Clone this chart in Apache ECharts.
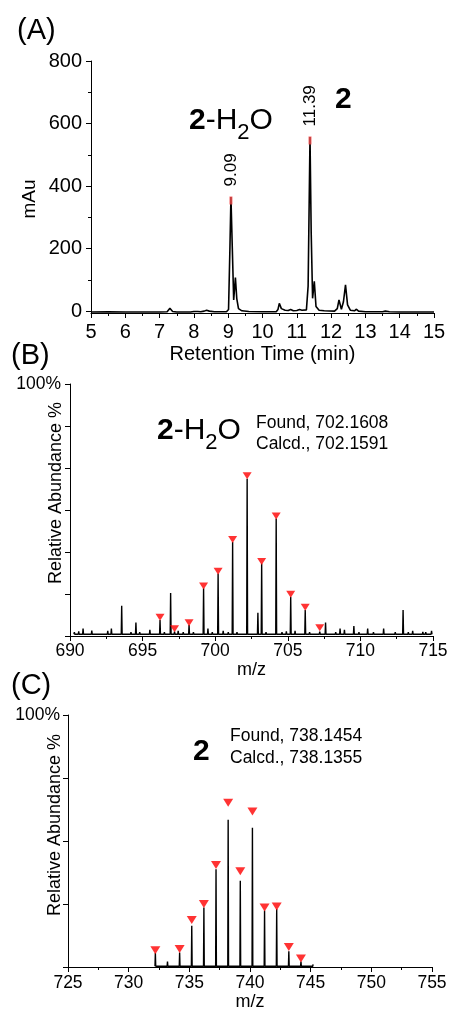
<!DOCTYPE html>
<html><head><meta charset="utf-8">
<script src="https://cdn.jsdelivr.net/npm/echarts@6/dist/echarts.min.js"></script>
<style>html,body{margin:0;padding:0;background:#fff}#c{width:453px;height:1012px}</style>
</head><body><div id="c"></div><script>
const FONT = "'Liberation Sans', Arial, sans-serif";

// ---------- Panel A : HPLC chromatogram ----------
const chromTime = [5.0,5.5,6.0,6.5,7.0,7.22,7.30,7.38,7.5,7.9,8.0,8.05,8.11,8.2,8.3,8.37,8.45,8.6,8.95,9.01,9.05,9.08,9.12,9.16,9.21,9.25,9.3,9.4,9.6,10.0,10.4,10.45,10.49,10.55,10.6,10.66,10.75,10.82,10.9,11.0,11.08,11.15,11.28,11.33,11.385,11.42,11.46,11.51,11.56,11.65,11.8,12.1,12.18,12.23,12.3,12.36,12.42,12.48,12.56,12.68,12.74,12.8,13.0,13.5,13.58,13.63,13.7,14.0,15.0];
const chromAbs  = [-3,-2.5,-3,-3,-3,-2,9,-1,-3,-3,-1,5,-1,-2,0,3,0,-2,-2,5,200,365,200,36,107,40,8,1,-1,-2,-2,5,25,8,12,3,2,5,1,2,5,3,4,80,557,250,41,95,15,3,1,0,8,36,6,30,84,20,3,1,6,0,-2,-2,0,4,-2,-3,-3];
const peakTime  = [9.08, 11.385];
const peakAbs   = [365, 557];
const peakLabel = ['9.09', '11.39'];
const aYMajor = [0, 200, 400, 600, 800];
const aYMinor = [100, 300, 500, 700];

// ---------- Panel B : MS of 2-H2O ----------
const bStickMz  = [690.3,690.6,690.9,691.2,691.5,691.8,692.2,692.6,692.85,693.2,693.56,693.9,694.2,694.54,694.8,695.2,695.5,695.8,696.2,696.5,696.93,697.2,697.45,697.8,698.2,698.5,698.8,699.2,699.5,699.8,700.2,700.55,700.9,701.2,701.5,701.8,702.2,702.5,702.94,703.2,703.5,703.8,704.2,704.6,704.9,705.2,705.5,705.8,706.2,706.5,706.8,707.2,707.6,708.0,708.3,708.6,708.9,709.2,709.55,709.9,710.2,710.5,710.9,711.2,711.6,712.0,712.4,712.94,713.3,713.6,714.0,714.3,714.5,714.9];
const bStickInt = [1.5,1.8,3,1.2,2.2,1,1.2,2,3,1.4,12,1.2,1.5,5.3,1.5,1.2,2.5,1,6.3,1.5,17.1,1.7,2,1.5,4.4,1.5,1.2,18.9,3,1.5,24.8,2,1.5,37.3,1.5,1.2,62.4,1.2,9.2,28.8,1.5,1.2,46.6,1.5,1.8,15.6,2,1.2,10.3,1.5,1.2,1.7,5.3,1.2,1.5,3,2.5,1.2,4,1.5,1.2,3,1.5,1.2,3,1.2,1.5,10.3,1.5,2,1.2,1.6,1.5,2];
const bCalcMz  = [696.2,697.2,698.2,699.2,700.2,701.2,702.2,703.2,704.2,705.2,706.2,707.2];
const bCalcInt = [7.4,2.9,5.3,19.8,25.7,38.3,63.6,29.6,47.6,16.6,11.4,3.3];
const bYTicks = [0, 16.667, 33.333, 50, 66.667, 83.333, 100];

// ---------- Panel C : MS of 2 ----------
const cStickMz  = [732.2,733.2,734.2,735.2,736.2,737.2,738.2,739.2,740.2,741.2,742.2,743.2,744.2,745.2];
const cStickInt = [5.5,2.2,5.7,16.4,23.6,38.8,58.4,34.2,55.3,22.4,23,6.2,2.2,1.0];
const cCalcMz  = [732.2,734.2,735.2,736.2,737.2,738.2,739.2,740.2,741.2,742.2,743.2,744.2];
const cCalcInt = [6.6,7.1,18.7,25,40.5,65.2,38,61.7,23.6,24,7.9,3.4];

function sticks(mz, inten, base) {
  const out = [];
  mz.forEach((m, i) => { out.push([m - 0.03, base], [m, inten[i]], [m + 0.03, base]); });
  return out;
}
const pairs = (a, b) => a.map((v, i) => [v, b[i]]);

const blk = '#000';
function xAx(gi, min, max, name, fs, margin, gap) {
  return {
    type: 'value', gridIndex: gi, min: min, max: max, interval: gi === 0 ? 1 : 5,
    axisLine: { show: true, onZero: false, lineStyle: { color: blk, width: 1 } },
    axisTick: { show: true, inside: false, length: 5, lineStyle: { color: blk } },
    minorTick: { show: true, splitNumber: 2, length: 3, lineStyle: { color: blk } },
    axisLabel: { color: blk, fontSize: fs, fontFamily: FONT, margin: margin },
    splitLine: { show: false }, minorSplitLine: { show: false },
    name: name, nameLocation: 'middle', nameGap: gap,
    nameTextStyle: { color: blk, fontSize: gi === 0 ? 20 : 18, fontFamily: FONT }
  };
}

const option = {
  animation: false,
  backgroundColor: '#fff',
  grid: [
    { left: 91, top: 61, width: 343, height: 252 },
    { left: 70, top: 384, width: 363, height: 252 },
    { left: 68, top: 715, width: 364, height: 252 }
  ],
  xAxis: [
    xAx(0, 5, 15, 'Retention Time (min)', 20, 9, 31),
    xAx(1, 690, 715, 'm/z', 17.5, 6, 24),
    xAx(2, 725, 755, 'm/z', 17.5, 7, 25)
  ],
  yAxis: [
    { type: 'value', gridIndex: 0, position: 'left', min: -6, max: 800,
      axisLine: { show: true, lineStyle: { color: blk } },
      axisTick: { show: true, length: 5, customValues: aYMajor, lineStyle: { color: blk } },
      axisLabel: { customValues: aYMajor, color: blk, fontSize: 20, fontFamily: FONT, margin: 9 },
      splitLine: { show: false },
      name: 'mAu', nameLocation: 'middle', nameGap: 52, nameMoveOverlap: false,
      nameTextStyle: { color: blk, fontSize: 19, fontFamily: FONT, padding: [0, 24, 0, 0] } },
    { type: 'value', gridIndex: 0, position: 'left', min: -6, max: 800,
      axisLine: { show: false },
      axisTick: { show: true, length: 3, customValues: aYMinor, lineStyle: { color: blk } },
      axisLabel: { show: false }, splitLine: { show: false } },
    { type: 'value', gridIndex: 1, min: 0, max: 100,
      axisLine: { show: true, lineStyle: { color: blk } },
      axisTick: { show: true, length: 5, customValues: bYTicks, lineStyle: { color: blk } },
      axisLabel: { customValues: [100], formatter: v => (v >= 99.9 ? '100%' : ''), color: blk, fontSize: 17.5, fontFamily: FONT, margin: 9 },
      splitLine: { show: false },
      name: 'Relative Abundance %', nameLocation: 'middle', nameGap: 5, nameMoveOverlap: false,
      nameTextStyle: { color: blk, fontSize: 18, fontFamily: FONT, padding: [0, 0, 0, 34] } },
    { type: 'value', gridIndex: 2, min: 0, max: 100, interval: 25,
      axisLine: { show: true, lineStyle: { color: blk } },
      axisTick: { show: true, length: 5, lineStyle: { color: blk } },
      axisLabel: { formatter: v => (v >= 99.9 ? '100%' : ''), color: blk, fontSize: 17.5, fontFamily: FONT, margin: 8 },
      splitLine: { show: false },
      name: 'Relative Abundance %', nameLocation: 'middle', nameGap: 4, nameMoveOverlap: false,
      nameTextStyle: { color: blk, fontSize: 18, fontFamily: FONT, padding: [0, 0, 0, 32] } }
  ],
  series: [
    { type: 'line', xAxisIndex: 0, yAxisIndex: 0, data: pairs(chromTime, chromAbs),
      symbol: 'none', lineStyle: { color: blk, width: 1.6 }, z: 2 },
    { type: 'scatter', xAxisIndex: 0, yAxisIndex: 0, data: pairs(peakTime, peakAbs),
      symbol: 'rect', symbolSize: [3, 8], symbolOffset: [0, 3.5],
      itemStyle: { color: '#f04848' }, z: 3,
      label: { show: true, formatter: p => peakLabel[p.dataIndex], position: 'top', distance: 10,
        rotate: 90, align: 'left', verticalAlign: 'middle', color: blk, opacity: 1, fontSize: 17, fontFamily: FONT } },
    { type: 'line', xAxisIndex: 1, yAxisIndex: 2, data: sticks(bStickMz, bStickInt, 0.7),
      symbol: 'none', lineStyle: { color: blk, width: 1.4 }, z: 2 },
    { type: 'scatter', xAxisIndex: 1, yAxisIndex: 2, data: pairs(bCalcMz, bCalcInt),
      symbol: 'triangle', symbolRotate: 180, symbolSize: [9, 7], itemStyle: { color: '#ff0000' }, z: 3 },
    { type: 'line', xAxisIndex: 2, yAxisIndex: 3, data: sticks(cStickMz, cStickInt, 0.3),
      symbol: 'none', lineStyle: { color: blk, width: 1.4 }, z: 2 },
    { type: 'scatter', xAxisIndex: 2, yAxisIndex: 3, data: pairs(cCalcMz, cCalcInt),
      symbol: 'triangle', symbolRotate: 180, symbolSize: [10, 8], itemStyle: { color: '#ff0000' }, z: 3 }
  ],
  graphic: (function () {
    const rich = {
      b: { fontSize: 30, fontWeight: 'bold', fontFamily: FONT, lineHeight: 34, verticalAlign: 'top', fill: blk },
      n: { fontSize: 30, fontFamily: FONT, lineHeight: 34, verticalAlign: 'top', fill: blk },
      s: { fontSize: 22, fontFamily: FONT, lineHeight: 24, padding: [16, 0, 0, 0], verticalAlign: 'top', fill: blk }
    };
    const t = (txt, x, y, fs, extra) => ({ type: 'text', x: x, y: y,
      style: Object.assign({ text: txt, fontSize: fs, fontFamily: FONT, fill: blk, align: 'left', verticalAlign: 'middle' }, extra || {}) });
    return [
      t('(A)', 17, 31, 29),
      t('(B)', 11, 356, 29),
      t('(C)', 11, 686, 29),
      { type: 'text', x: 189, y: 106, style: { text: '{b|2}{n|-H}{s|2}{n|O}', rich: rich, verticalAlign: 'top', align: 'left', fill: blk } },
      t('2', 335, 100, 30, { fontWeight: 'bold' }),
      { type: 'text', x: 157, y: 416, style: { text: '{b|2}{n|-H}{s|2}{n|O}', rich: rich, verticalAlign: 'top', align: 'left', fill: blk } },
      t('Found, 702.1608', 256, 423, 17.5),
      t('Calcd., 702.1591', 256, 444, 17.5),
      t('2', 193, 752, 30, { fontWeight: 'bold' }),
      t('Found, 738.1454', 230, 736, 17.5),
      t('Calcd., 738.1355', 230, 758, 17.5)
    ];
  })()
};
const chart = echarts.init(document.getElementById('c'), null, { renderer: 'canvas' });
chart.setOption(option);
</script></body></html>
